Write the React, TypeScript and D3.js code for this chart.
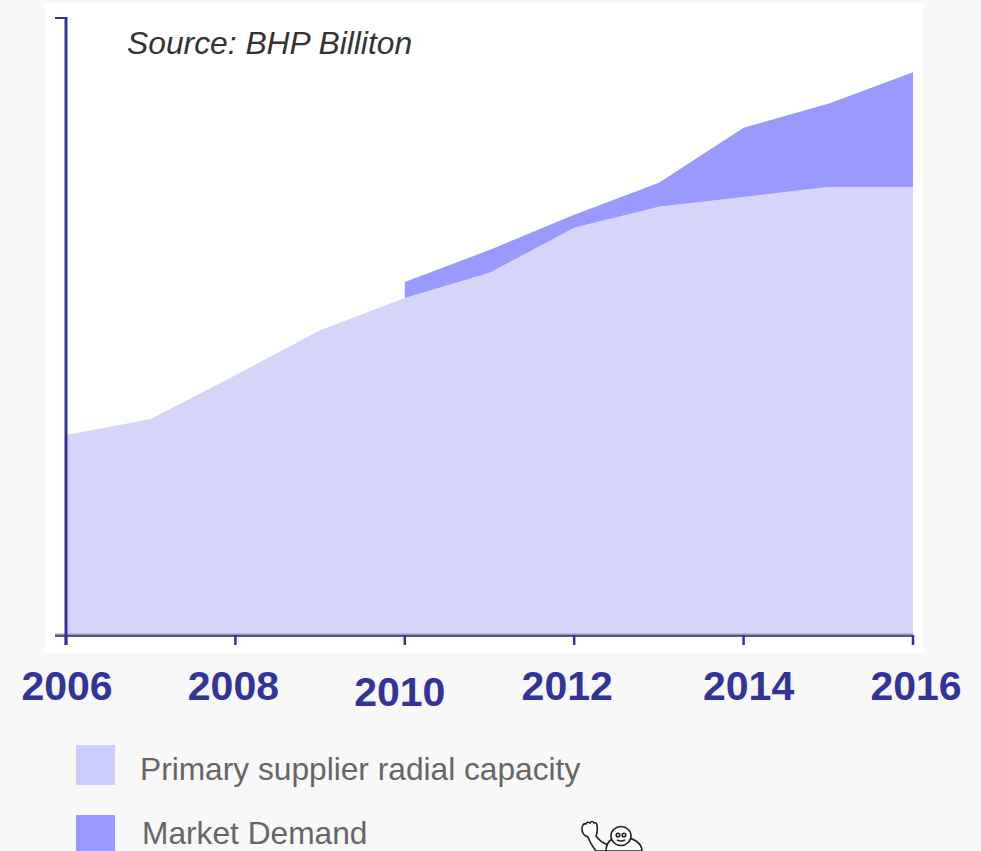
import React from "react";
import * as d3 from "d3";

const years = [2006, 2007, 2008, 2009, 2010, 2011, 2012, 2013, 2014, 2015, 2016];
const capacity = [32.4, 35.0, 42.1, 49.4, 54.6, 58.7, 66.0, 69.4, 71.0, 72.6, 72.6];
const demandYears = [2010, 2011, 2012, 2013, 2014, 2015, 2016];
const demand = [57.2, 62.4, 68.1, 73.3, 82.2, 86.1, 91.2];
const tickYears = [2006, 2008, 2010, 2012, 2014, 2016];
const tickLabelDy = [0, 0, 6, 0, 0, 0];
const tickLabelDx = [1, -2, -5, -7, 5, 3];
const legendLabels = ["Primary supplier radial capacity", "Market Demand"];
const legendColors = ["#ccccff", "#9999ff"];

const W = 981;
const H = 851;
const axisColor = "#33339a";

export default function App() {
  const x = d3.scaleLinear().domain([2006, 2016]).range([66, 913]);
  const y = d3.scaleLinear().domain([0, 100]).range([635, 18]);

  const capArea = d3
    .area<number>()
    .x((_, i) => x(years[i]))
    .y0(y(0))
    .y1((d) => y(d));

  const capOf = (yr: number) => capacity[years.indexOf(yr)];
  const demArea = d3
    .area<number>()
    .x((_, i) => x(demandYears[i]))
    .y0((_, i) => y(capOf(demandYears[i])))
    .y1((d) => y(d));

  return (
    <svg
      width={W}
      height={H}
      style={{ position: "absolute", left: 0, top: 0 }}
      fontFamily="'Liberation Sans', Arial, sans-serif"
    >
      <rect x={0} y={0} width={W} height={H} fill="#f8f8f8" />
      <rect x={45} y={3} width={878} height={650} fill="#ffffff" />

      <path d={capArea(capacity) || ""} fill="#d5d5fa" />
      <path d={demArea(demand) || ""} fill="#9999ff" />

      {/* axes */}
      <line x1={55} x2={x(2016)} y1={y(0)} y2={y(0)} stroke="#9a9aa8" strokeWidth={3} />
      <line x1={55} x2={x(2016)} y1={y(0) + 1} y2={y(0) + 1} stroke={axisColor} strokeWidth={1.5} />
      <line x1={x(2006)} x2={x(2006)} y1={y(100)} y2={y(0) + 10} stroke={axisColor} strokeWidth={3} />
      <line x1={55} x2={x(2006) + 1.5} y1={y(100)} y2={y(100)} stroke={axisColor} strokeWidth={2} />
      {tickYears.map((t) => (
        <line key={t} x1={x(t)} x2={x(t)} y1={y(0)} y2={y(0) + 10} stroke={axisColor} strokeWidth={2.5} />
      ))}

      {tickYears.map((t, i) => (
        <text
          key={t}
          x={x(t) + tickLabelDx[i]}
          y={700 + tickLabelDy[i]}
          textAnchor="middle"
          fontSize={41}
          fontWeight="bold"
          fill={axisColor}
        >
          {t}
        </text>
      ))}

      <text x={127} y={54} fontSize={31.8} fontStyle="italic" fill="#333333">
        Source: BHP Billiton
      </text>

      {legendLabels.map((l, i) => (
        <g key={l}>
          <rect x={76} y={745 + i * 70} width={39} height={40} fill={legendColors[i]} />
          <text x={140 + i * 2} y={780 + i * 64} fontSize={31.7} fill="#666666">
            {l}
          </text>
        </g>
      ))}

      {/* small mascot doodle */}
      <g fill="#ffffff" stroke="#222" strokeWidth={1.6} strokeLinejoin="round">
        <path d="M596 851 q-6 -8 -8 -14 q-6 -2 -6 -8 q0 -6 4 -5 q1 -3 4 -1 q2 -3 4 0 q3 -1 3 3 q1 5 -1 10 q4 6 12 9 q6 2 14 0 l0 6 z" />
        <path d="M606 851 q0 -8 6 -12 q14 -4 24 2 q6 4 6 10 z" />
        <ellipse cx={621} cy={836} rx={10} ry={9.5} />
        <circle cx={618} cy={835} r={1.8} />
        <circle cx={624} cy={835} r={1.8} />
        <path d="M617 840 q4 2 8 0" fill="none" />
      </g>
    </svg>
  );
}
